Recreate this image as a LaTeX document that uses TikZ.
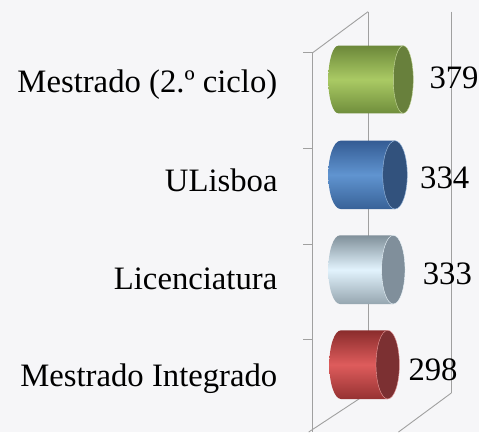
\documentclass[tikz,border=0pt]{standalone}
\usepackage{fontspec}
\setmainfont{Liberation Serif}
\definecolor{bgc}{RGB}{246,246,248}
\definecolor{axisgray}{RGB}{160,160,160}
\definecolor{gTop}{RGB}{108,136,58}
\definecolor{gMid}{RGB}{170,202,100}
\definecolor{gBot}{RGB}{112,142,60}
\definecolor{gEnd}{RGB}{104,128,60}
\definecolor{bTop}{RGB}{52,92,148}
\definecolor{bMid}{RGB}{96,148,208}
\definecolor{bBot}{RGB}{56,98,152}
\definecolor{bEnd}{RGB}{50,82,125}
\definecolor{lTop}{RGB}{128,144,154}
\definecolor{lMid}{RGB}{226,243,253}
\definecolor{lBot}{RGB}{150,166,176}
\definecolor{lEnd}{RGB}{128,143,155}
\definecolor{rTop}{RGB}{138,44,44}
\definecolor{rMid}{RGB}{222,92,92}
\definecolor{rBot}{RGB}{150,50,50}
\definecolor{rEnd}{RGB}{124,48,50}
\tikzset{
  axisline/.style={draw=axisgray, line width=0.9pt},
  catlabel/.style={anchor=base east, inner sep=0pt, font=\fontsize{32.7}{36}\selectfont},
  vallabel/.style={anchor=base west, inner sep=0pt, font=\fontsize{32.7}{36}\selectfont},
}
% #1 left-end centre x, #2 right-end centre x, #3 top y, #4 bottom y, #5 x radius, #6 colour prefix
\newcommand\drawcyl[6]{%
  \pgfmathsetmacro\cyc{(#3+#4)/2}%
  \pgfmathsetmacro\cyr{(#4-#3)/2}%
  \shade[top color=#6Top, bottom color=#6Bot, middle color=#6Mid]
    (#1,#3) -- (#2,#3) -- (#2,#4) -- (#1,#4)
    arc[start angle=90, end angle=270, x radius=#5, y radius=\cyr] -- cycle;
  \fill[#6End, draw=#6Mid!60!white, line width=0.4pt] (#2,\cyc) ellipse [x radius=#5, y radius=\cyr];
}
\begin{document}
\begin{tikzpicture}[x=1pt,y=-1pt]
\fill[bgc] (0,0) rectangle (479,432);
\useasboundingbox (0,0) rectangle (479,432);
% axis frame
\coordinate (fTop) at (312.7,52.7);
\coordinate (fBot) at (312.7,432);
\coordinate (bTopL) at (368,11.7);
\coordinate (bBotL) at (368,393);
\coordinate (bTopR) at (451.3,11.7);
\coordinate (bBotR) at (451.3,393);
\coordinate (floorL) at (308.7,432);
\coordinate (floorR) at (398.5,432);
\draw[axisline] (fTop) -- (fBot);
\draw[axisline] (fTop) -- (bTopL);
\draw[axisline] (bTopL) -- (bBotL);
\draw[axisline] (bBotL) -- (floorL);
\draw[axisline] (bTopR) -- (bBotR);
\draw[axisline] (bBotR) -- (floorR);
\foreach \ty [count=\i] in {52.7,148.5,244,339.3}{
  \coordinate (tickA\i) at (303,\ty);
  \coordinate (tickB\i) at (312.7,\ty);
  \draw[axisline] (tickA\i) -- (tickB\i);
}
% cylinders
\drawcyl{338.3}{403.3}{45.7}{113.3}{10}{g}
\drawcyl{340.6}{395}{140.7}{209}{12.3}{b}
\drawcyl{340}{393.3}{235.3}{304}{11.7}{l}
\drawcyl{341}{387.7}{330.3}{399}{11.7}{r}
% category labels
\node[catlabel] (c1) at (277.5,92.7) {Mestrado (2.º ciclo)};
\node[catlabel] (c2) at (277.8,191) {ULisboa};
\node[catlabel] (c3) at (277.5,289.3) {Licenciatura};
\node[catlabel] (c4) at (277.5,386.7) {Mestrado Integrado};
% value labels
\node[vallabel] (v1) at (429.3,88.3) {379};
\node[vallabel] (v2) at (420,188.3) {334};
\node[vallabel] (v3) at (422.6,284) {333};
\node[vallabel] (v4) at (408.3,380) {298};
\end{tikzpicture}
\end{document}
